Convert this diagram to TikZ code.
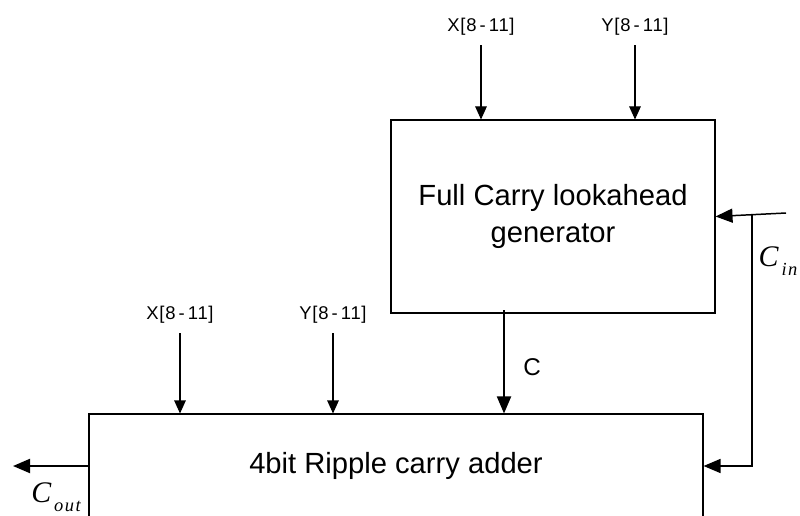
\documentclass[tikz,border=0pt]{standalone}
\usepackage{fontspec}
\setmainfont{Liberation Sans}
\newfontfamily\timesfont{Liberation Serif}
\usetikzlibrary{arrows.meta}
\newcommand{\carrysig}[1]{{\timesfont\itshape\fontsize{17}{19}\selectfont C\kern0.1em\raisebox{-5pt}{\fontsize{10.5}{12}\selectfont\addfontfeature{LetterSpace=8}#1}}}

\begin{document}
\begin{tikzpicture}[
    block/.style={rectangle,draw,line width=0.6pt,align=center,
      font=\fontsize{16.6}{21.5}\selectfont},
    bus/.style={font=\fontsize{10.5}{12}\selectfont\addfontfeature{LetterSpace=4}},
    thinarrow/.style={line width=0.6pt,-{Triangle[length=0.26cm,width=0.23cm]}},
    midarrow/.style={line width=0.85pt,-{Triangle[length=0.34cm,width=0.28cm]}},
    thickarrow/.style={line width=1.1pt,-{Triangle[length=0.34cm,width=0.28cm]}}]
      \useasboundingbox (0,0) rectangle (16,10.3);
      \node[block,minimum width=6.48cm,minimum height=3.86cm] (cla) at (11.06,5.97)
           {Full Carry lookahead\\generator};
      \node[block,minimum width=12.28cm,minimum height=2.08cm] (rca) at (7.92,0.98)
           {4bit Ripple carry adder};

      \node[bus] (xcla) at (9.62,9.76) {X[8\,-\,11]};
      \node[bus] (ycla) at (12.7,9.76) {Y[8\,-\,11]};
      \node[bus] (xrca) at (3.6,4.0) {X[8\,-\,11]};
      \node[bus] (yrca) at (6.66,4.0) {Y[8\,-\,11]};

      \draw[thinarrow,shorten <=2pt] (xcla.south) -- (xcla |- cla.north);
      \draw[thinarrow,shorten <=2pt] (ycla.south) -- (ycla |- cla.north);
      \draw[thinarrow,shorten <=2pt] (xrca.south) -- (xrca |- rca.north);
      \draw[thinarrow,shorten <=2pt] (yrca.south) -- (yrca |- rca.north);

      % carry from the lookahead unit into the adder
      \coordinate (ctap) at (10.08,4.1);
      \draw[thickarrow] (ctap) -- (ctap |- rca.north)
           node[pos=0.55,right=0.25cm,font=\fontsize{13.8}{15}\selectfont] (clbl) {C};

      % carry in
      \coordinate (cin) at (15.72,6.04);
      \coordinate (tap) at (15.04,6.005);
      \draw[midarrow] (cin) -- (cla.east);
      \draw[midarrow] (tap) |- (rca.east);
      \node (cinlbl) at (15.56,5.08) {\carrysig{in}};

      % carry out
      \coordinate (cout) at (0.26,0.98);
      \draw[thickarrow] (rca.west) -- (cout);
      \node (coutlbl) at (1.12,0.36) {\carrysig{out}};
    \end{tikzpicture}
\end{document}
